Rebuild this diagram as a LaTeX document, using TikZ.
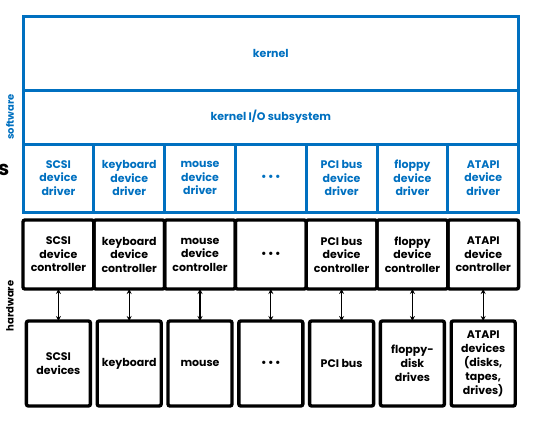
\documentclass[tikz,border=0pt]{standalone}
\usepackage{fontspec}
\setmainfont{Poppins}
\usetikzlibrary{arrows.meta}
\definecolor{osblue}{RGB}{0,112,192}
\newcommand{\gap}{\textbullet\kern1.5pt\textbullet\kern1.5pt\textbullet}

\begin{document}
\begin{tikzpicture}[x=1pt,y=-1pt,
  txt/.style={inner sep=0pt,outer sep=0pt,align=center,font=\fontsize{11}{13.5}\selectfont\bfseries},
  soft/.style={txt,draw=osblue,line width=3pt,text=osblue},
  drv/.style={soft,minimum width=70.8pt,minimum height=68pt},
  hard/.style={txt,draw=black,line width=3.4pt,rounded corners=2pt},
  ctl/.style={hard,minimum width=70.8pt,minimum height=69pt},
  dev/.style={hard,minimum width=64pt,minimum height=85pt,font=\fontsize{11}{14}\selectfont\bfseries},
  link/.style={{Stealth[length=5pt,width=5pt]}-{Stealth[length=5pt,width=5pt]},line width=1.2pt},
  side/.style={rotate=90,inner sep=0pt,font=\fontsize{10}{10}\selectfont\bfseries}]
\useasboundingbox (0,0) rectangle (542,421);
% software part
\node[soft,minimum width=495.6pt,minimum height=74pt] (kern) at (270.8,53) {kernel};
\node[soft,minimum width=495.6pt,minimum height=54pt] (kio) at (270.8,117) {kernel I/O subsystem};
\node[drv] (drv1) at (58.4,178) {SCSI\\device\\driver};
\node[drv] (drv2) at (129.2,178) {keyboard\\device\\driver};
\node[drv] (drv3) at (200.0,178) {mouse\\device\\driver};
\node[drv] (drv4) at (270.8,178) {\gap};
\node[drv] (drv5) at (341.6,178) {PCI bus\\device\\driver};
\node[drv] (drv6) at (412.4,178) {floppy\\device\\driver};
\node[drv] (drv7) at (483.2,178) {ATAPI\\device\\driver};
% hardware part
\node[ctl] (ctl1) at (58.4,254.5) {SCSI\\device\\controller};
\node[ctl] (ctl2) at (129.2,254.5) {keyboard\\device\\controller};
\node[ctl] (ctl3) at (200.0,254.5) {mouse\\device\\controller};
\node[ctl] (ctl4) at (270.8,254.5) {\gap};
\node[ctl] (ctl5) at (341.6,254.5) {PCI bus\\device\\controller};
\node[ctl] (ctl6) at (412.4,254.5) {floppy\\device\\controller};
\node[ctl] (ctl7) at (483.2,254.5) {ATAPI\\device\\controller};
\node[dev] (dev1) at (58.4,363.5) {SCSI\\devices};
\node[dev] (dev2) at (129.2,363.5) {keyboard};
\node[dev] (dev3) at (200.0,363.5) {mouse};
\node[dev] (dev4) at (270.8,363.5) {\gap};
\node[dev] (dev5) at (341.6,363.5) {PCI bus};
\node[dev] (dev6) at (412.4,363.5) {floppy-\\disk\\drives};
\node[dev] (dev7) at (483.2,363.5) {ATAPI\\devices\\(disks,\\tapes,\\drives)};
\foreach \i in {1,...,7}
  \draw[link] (ctl\i) -- (dev\i);
% side labels
\node[side,text=osblue] (sw) at (10,117) {software};
\node[side] (hw) at (10,306) {hardware};
\node[anchor=base east,inner sep=0pt,font=\fontsize{20}{20}\selectfont\bfseries] (cut) at (9.5,175.5) {s};
\end{tikzpicture}
\end{document}
